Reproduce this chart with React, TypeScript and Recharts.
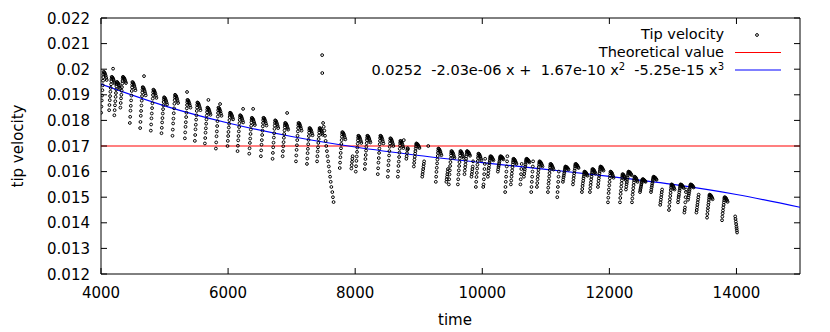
import { ComposedChart, XAxis, YAxis, Scatter, Line, ReferenceArea } from "recharts";

const xTicks = [4000, 6000, 8000, 10000, 12000, 14000];
const yTicks = [0.012, 0.013, 0.014, 0.015, 0.016, 0.017, 0.018, 0.019, 0.02, 0.021, 0.022];

// [time, tip velocity], one line per streak
const tipSamples: [number, number][] = [
  [4002,0.0183],[4007,0.01854],[4012,0.01878],[4017,0.01897],[4022,0.01918],[4027,0.01937],[4032,0.01955],[4036,0.01969],[4039,0.0198],[4042,0.0199],[4050,0.01988],[4058,0.01985],[4066,0.0198],[4074,0.01974],[4082,0.01966],[4090,0.01958],[4190,0.02002],
  [4128,0.0184],[4133,0.0186],[4138,0.01879],[4143,0.01895],[4148,0.01912],[4153,0.01927],[4158,0.01941],[4162,0.01953],[4165,0.01962],[4168,0.0197],[4176,0.01969],[4184,0.01966],[4192,0.01962],[4200,0.01957],[4208,0.0195],[4216,0.01944],
  [4210,0.0182],[4215,0.0184],[4220,0.01859],[4225,0.01875],[4230,0.01892],[4235,0.01907],[4240,0.01921],[4244,0.01933],[4247,0.01942],[4250,0.0195],[4258,0.01949],[4266,0.01946],[4274,0.01942],[4282,0.01937],[4290,0.0193],[4298,0.01924],
  [4305,0.0185],[4310,0.01868],[4315,0.01886],[4320,0.019],[4325,0.01916],[4330,0.0193],[4335,0.01944],[4339,0.01954],[4342,0.01963],[4345,0.0197],[4353,0.01969],[4361,0.01966],[4369,0.01963],[4377,0.01958],[4385,0.01952],[4393,0.01946],
  [4454,0.0179],[4459,0.01814],[4464,0.01838],[4469,0.01857],[4474,0.01878],[4479,0.01897],[4484,0.01915],[4488,0.01929],[4491,0.0194],[4494,0.0195],[4502,0.01948],[4510,0.01945],[4518,0.0194],[4526,0.01934],[4534,0.01926],[4542,0.01918],
  [4616,0.0177],[4621,0.01794],[4626,0.01818],[4631,0.01837],[4636,0.01858],[4641,0.01877],[4646,0.01895],[4650,0.01909],[4653,0.0192],[4656,0.0193],[4664,0.01928],[4672,0.01925],[4680,0.0192],[4688,0.01914],[4696,0.01906],[4704,0.01898],[4677,0.01973],
  [4784,0.0176],[4789,0.01784],[4794,0.01808],[4799,0.01827],[4804,0.01848],[4809,0.01867],[4814,0.01885],[4818,0.01899],[4821,0.0191],[4824,0.0192],[4832,0.01918],[4840,0.01915],[4848,0.0191],[4856,0.01904],[4864,0.01896],[4872,0.01888],
  [4952,0.0175],[4957,0.01771],[4962,0.01792],[4967,0.01809],[4972,0.01827],[4977,0.01844],[4982,0.01859],[4986,0.01872],[4989,0.01882],[4992,0.0189],[5000,0.01889],[5008,0.01886],[5016,0.01882],[5024,0.01876],[5032,0.01869],[5040,0.01862],
  [5125,0.0174],[5130,0.01764],[5135,0.01788],[5140,0.01807],[5145,0.01828],[5150,0.01847],[5155,0.01865],[5159,0.01879],[5162,0.0189],[5165,0.019],[5173,0.01898],[5181,0.01895],[5189,0.0189],[5197,0.01884],[5205,0.01876],[5213,0.01868],
  [5320,0.0173],[5325,0.01753],[5330,0.01775],[5335,0.01793],[5340,0.01813],[5345,0.0183],[5350,0.01847],[5354,0.0186],[5357,0.01871],[5360,0.0188],[5368,0.01879],[5376,0.01876],[5384,0.01871],[5392,0.01865],[5400,0.01858],[5408,0.0185],[5354,0.01911],
  [5477,0.0172],[5482,0.01743],[5487,0.01765],[5492,0.01783],[5497,0.01803],[5502,0.0182],[5507,0.01837],[5511,0.0185],[5514,0.01861],[5517,0.0187],[5525,0.01869],[5533,0.01866],[5541,0.01861],[5549,0.01855],[5557,0.01848],[5565,0.0184],
  [5635,0.0171],[5640,0.01731],[5645,0.01752],[5650,0.01769],[5655,0.01787],[5660,0.01804],[5665,0.01819],[5669,0.01832],[5672,0.01842],[5675,0.0185],[5683,0.01849],[5691,0.01846],[5699,0.01842],[5707,0.01836],[5715,0.01829],[5723,0.01822],[5690,0.0188],
  [5808,0.0169],[5813,0.01714],[5818,0.01738],[5823,0.01757],[5828,0.01778],[5833,0.01797],[5838,0.01815],[5842,0.01829],[5845,0.0184],[5848,0.0185],[5856,0.01848],[5864,0.01845],[5872,0.0184],[5880,0.01834],[5888,0.01826],[5896,0.01818],[5874,0.01864],
  [5991,0.017],[5996,0.0172],[6001,0.01739],[6006,0.01755],[6011,0.01772],[6016,0.01787],[6021,0.01801],[6025,0.01813],[6028,0.01822],[6031,0.0183],[6039,0.01829],[6047,0.01826],[6055,0.01822],[6063,0.01817],[6071,0.0181],[6079,0.01804],
  [6149,0.0168],[6154,0.01701],[6159,0.01722],[6164,0.01739],[6169,0.01757],[6174,0.01774],[6179,0.01789],[6183,0.01802],[6186,0.01812],[6189,0.0182],[6197,0.01819],[6205,0.01816],[6213,0.01812],[6221,0.01806],[6229,0.01799],[6237,0.01792],[6236,0.01845],
  [6333,0.0167],[6338,0.01691],[6343,0.01712],[6348,0.01729],[6353,0.01747],[6358,0.01764],[6363,0.01779],[6367,0.01792],[6370,0.01802],[6373,0.0181],[6381,0.01809],[6389,0.01806],[6397,0.01802],[6405,0.01796],[6413,0.01789],[6421,0.01782],[6394,0.01845],
  [6516,0.0166],[6521,0.01683],[6526,0.01705],[6531,0.01723],[6536,0.01743],[6541,0.0176],[6546,0.01777],[6550,0.0179],[6553,0.01801],[6556,0.0181],[6564,0.01809],[6572,0.01806],[6580,0.01801],[6588,0.01795],[6596,0.01788],[6604,0.0178],
  [6700,0.0165],[6705,0.01673],[6710,0.01695],[6715,0.01713],[6720,0.01733],[6725,0.0175],[6730,0.01767],[6734,0.0178],[6737,0.01791],[6740,0.018],[6748,0.01799],[6756,0.01796],[6764,0.01791],[6772,0.01785],[6780,0.01778],[6788,0.0177],
  [6858,0.0166],[6863,0.0168],[6868,0.01699],[6873,0.01715],[6878,0.01732],[6883,0.01747],[6888,0.01761],[6892,0.01773],[6895,0.01782],[6898,0.0179],[6906,0.01789],[6914,0.01786],[6922,0.01782],[6930,0.01777],[6938,0.0177],[6946,0.01764],[6929,0.01829],
  [7068,0.0164],[7073,0.01663],[7078,0.01685],[7083,0.01703],[7088,0.01723],[7093,0.0174],[7098,0.01757],[7102,0.0177],[7105,0.01781],[7108,0.0179],[7116,0.01789],[7124,0.01786],[7132,0.01781],[7140,0.01775],[7148,0.01768],[7156,0.0176],
  [7241,0.0163],[7246,0.01651],[7251,0.01672],[7256,0.01689],[7261,0.01707],[7266,0.01724],[7271,0.01739],[7275,0.01752],[7278,0.01762],[7281,0.0177],[7289,0.01769],[7297,0.01766],[7305,0.01762],[7313,0.01756],[7321,0.01749],[7329,0.01742],
  [7400,0.0164],[7405,0.0166],[7410,0.01679],[7415,0.01695],[7420,0.01712],[7425,0.01727],[7430,0.01741],[7434,0.01753],[7437,0.01762],[7440,0.0177],[7448,0.01769],[7456,0.01766],[7464,0.01762],[7472,0.01757],[7480,0.0175],[7488,0.01744],
  [7480,0.02055],[7482,0.01985],
  [7495,0.0179],[7505,0.01775],[7515,0.0176],[7525,0.0174],[7535,0.0172],[7545,0.017],[7555,0.0168],[7565,0.0166],[7575,0.0164],[7585,0.0162],[7595,0.016],[7605,0.0158],[7615,0.0156],[7625,0.0154],[7640,0.0152],[7650,0.015],[7660,0.01481],
  [7757,0.01614],[7762,0.01635],[7767,0.01656],[7772,0.01673],[7777,0.01691],[7782,0.01708],[7787,0.01723],[7791,0.01736],[7794,0.01746],[7797,0.01754],[7805,0.01753],[7813,0.0175],[7821,0.01746],[7829,0.0174],[7837,0.01733],[7845,0.01726],
  [7940,0.01612],[7945,0.01625],[7950,0.01638],[7955,0.0165],[7960,0.0166],
  [8009,0.016],[8014,0.01621],[8019,0.01642],[8024,0.01659],[8029,0.01677],[8034,0.01694],[8039,0.01709],[8043,0.01722],[8046,0.01732],[8049,0.0174],[8057,0.01739],[8065,0.01736],[8073,0.01732],[8081,0.01726],[8089,0.01719],[8097,0.01712],
  [8151,0.0161],[8156,0.0163],[8161,0.01649],[8166,0.01665],[8171,0.01682],[8176,0.01697],[8181,0.01711],[8185,0.01723],[8188,0.01732],[8191,0.0174],[8199,0.01739],[8207,0.01736],[8215,0.01732],[8223,0.01727],[8231,0.0172],[8239,0.01714],
  [8356,0.0159],[8361,0.01613],[8366,0.01635],[8371,0.01653],[8376,0.01673],[8381,0.0169],[8386,0.01707],[8390,0.0172],[8393,0.01731],[8396,0.0174],[8404,0.01739],[8412,0.01736],[8420,0.01731],[8428,0.01725],[8436,0.01718],[8444,0.0171],
  [8513,0.0158],[8518,0.01603],[8523,0.01625],[8528,0.01643],[8533,0.01663],[8538,0.0168],[8543,0.01697],[8547,0.0171],[8550,0.01721],[8553,0.0173],[8561,0.01729],[8569,0.01726],[8577,0.01721],[8585,0.01715],[8593,0.01708],[8601,0.017],
  [8671,0.0158],[8676,0.01601],[8681,0.01622],[8686,0.01639],[8691,0.01657],[8696,0.01674],[8701,0.01689],[8705,0.01702],[8708,0.01712],[8711,0.0172],[8719,0.01719],[8727,0.01716],[8735,0.01712],[8743,0.01706],[8751,0.01699],[8759,0.01692],[8765,0.01723],
  [8805,0.0165],[8810,0.0166],[8815,0.01672],[8820,0.01684],[8825,0.01692],[8830,0.01688],
  [8923,0.0162],[8928,0.01634],[8933,0.01647],[8938,0.01658],[8943,0.0167],[8948,0.0168],[8953,0.0169],[8957,0.01698],[8960,0.01705],[8963,0.0171],[8971,0.01709],[8979,0.01707],[8987,0.01705],[8995,0.01701],[9003,0.01697],[9011,0.01692],
  [9055,0.0158],[9060,0.0159],[9065,0.016],[9070,0.0161],[9075,0.0162],[9080,0.0163],[9085,0.0164],[9150,0.017],
  [9269,0.0156],[9274,0.0158],[9279,0.01599],[9284,0.01615],[9289,0.01632],[9294,0.01647],[9299,0.01661],[9303,0.01673],[9306,0.01682],[9309,0.0169],[9317,0.01689],[9325,0.01686],[9333,0.01682],[9341,0.01677],[9349,0.0167],[9357,0.01664],
  [9435,0.0156],[9440,0.0157],[9445,0.0158],[9450,0.0159],[9455,0.016],[9460,0.0161],
  [9474,0.0155],[9479,0.0157],[9484,0.01589],[9489,0.01605],[9494,0.01622],[9499,0.01637],[9504,0.01651],[9508,0.01663],[9511,0.01672],[9514,0.0168],[9522,0.01679],[9530,0.01676],[9538,0.01672],[9546,0.01667],[9554,0.0166],[9562,0.01654],
  [9616,0.0155],[9621,0.0157],[9626,0.01589],[9631,0.01605],[9636,0.01622],[9641,0.01637],[9646,0.01651],[9650,0.01663],[9653,0.01672],[9656,0.0168],[9664,0.01679],[9672,0.01676],[9680,0.01672],[9688,0.01667],[9696,0.0166],[9704,0.01654],
  [9720,0.0159],[9725,0.01604],[9730,0.01617],[9735,0.01628],[9740,0.0164],[9745,0.0165],[9750,0.0166],[9754,0.01668],[9757,0.01675],[9760,0.0168],[9768,0.01679],[9776,0.01677],[9784,0.01675],[9792,0.01671],[9800,0.01667],[9808,0.01662],
  [9830,0.0158],[9835,0.0159],[9840,0.016],[9845,0.0161],[9850,0.0162],[9855,0.0164],
  [9899,0.0154],[9904,0.0156],[9909,0.01579],[9914,0.01595],[9919,0.01612],[9924,0.01627],[9929,0.01641],[9933,0.01653],[9936,0.01662],[9939,0.0167],[9947,0.01669],[9955,0.01666],[9963,0.01662],[9971,0.01657],[9979,0.0165],[9987,0.01644],
  [10015,0.0154],[10020,0.0155],[10025,0.0157],[10030,0.0159],[10035,0.0161],[10040,0.0163],[10045,0.0165],
  [10088,0.0158],[10093,0.01592],[10098,0.01604],[10103,0.01614],[10108,0.01624],[10113,0.01634],[10118,0.01642],[10122,0.0165],[10125,0.01655],[10128,0.0166],[10136,0.01659],[10144,0.01658],[10152,0.01655],[10160,0.01652],[10168,0.01648],[10176,0.01644],
  [10245,0.016],[10250,0.01609],[10255,0.01618],[10260,0.01625],[10265,0.01633],[10270,0.0164],[10275,0.01647],[10279,0.01652],[10282,0.01656],[10285,0.0166],[10293,0.01659],[10301,0.01658],[10309,0.01656],[10317,0.01654],[10325,0.01651],[10333,0.01648],
  [10360,0.0152],[10365,0.0154],[10370,0.0156],[10375,0.0158],[10380,0.016],[10385,0.0162],[10390,0.0164],[10395,0.0166],
  [10450,0.0155],[10455,0.01565],[10460,0.0158],[10465,0.01592],[10470,0.01605],[10475,0.01617],[10480,0.01628],[10484,0.01637],[10487,0.01644],[10490,0.0165],[10498,0.01649],[10506,0.01647],[10514,0.01644],[10522,0.0164],[10530,0.01635],[10538,0.0163],
  [10600,0.0155],[10605,0.0157],[10610,0.0159],[10615,0.0161],[10620,0.0163],
  [10655,0.0158],[10660,0.01591],[10665,0.01601],[10670,0.01609],[10675,0.01619],[10680,0.01627],[10685,0.01635],[10689,0.01641],[10692,0.01646],[10695,0.0165],[10703,0.01649],[10711,0.01648],[10719,0.01646],[10727,0.01643],[10735,0.0164],[10743,0.01636],
  [10770,0.0152],[10775,0.0154],[10780,0.0156],[10785,0.0158],[10790,0.016],[10795,0.0162],[10800,0.0164],
  [10860,0.0154],[10865,0.01555],[10870,0.0157],[10875,0.01582],[10880,0.01595],[10885,0.01607],[10890,0.01618],[10894,0.01627],[10897,0.01634],[10900,0.0164],[10908,0.01639],[10916,0.01637],[10924,0.01634],[10932,0.0163],[10940,0.01625],[10948,0.0162],
  [11033,0.0152],[11038,0.01537],[11043,0.01553],[11048,0.01566],[11053,0.01581],[11058,0.01594],[11063,0.01606],[11067,0.01616],[11070,0.01623],[11073,0.0163],[11081,0.01629],[11089,0.01627],[11097,0.01623],[11105,0.01619],[11113,0.01614],[11121,0.01608],
  [11180,0.015],[11185,0.0152],[11190,0.0154],[11195,0.0156],[11200,0.0158],[11205,0.016],
  [11269,0.0156],[11274,0.01569],[11279,0.01578],[11284,0.01585],[11289,0.01593],[11294,0.016],[11299,0.01607],[11303,0.01612],[11306,0.01616],[11309,0.0162],[11317,0.01619],[11325,0.01618],[11333,0.01616],[11341,0.01614],[11349,0.01611],[11357,0.01608],
  [11427,0.0155],[11432,0.01562],[11437,0.01574],[11442,0.01584],[11447,0.01594],[11452,0.01604],[11457,0.01612],[11461,0.0162],[11464,0.01625],[11467,0.0163],[11475,0.01629],[11483,0.01628],[11491,0.01625],[11499,0.01622],[11507,0.01618],[11515,0.01614],
  [11568,0.0152],[11573,0.01532],[11578,0.01544],[11583,0.01554],[11588,0.01564],[11593,0.01574],[11598,0.01582],[11602,0.0159],[11605,0.01595],[11608,0.016],[11616,0.01599],[11624,0.01598],[11632,0.01595],[11640,0.01592],[11648,0.01588],[11656,0.01584],
  [11694,0.0152],[11699,0.01534],[11704,0.01547],[11709,0.01558],[11714,0.0157],[11719,0.0158],[11724,0.0159],[11728,0.01598],[11731,0.01605],[11734,0.0161],[11742,0.01609],[11750,0.01607],[11758,0.01605],[11766,0.01601],[11774,0.01597],[11782,0.01592],
  [11820,0.0154],[11825,0.01552],[11830,0.01564],[11835,0.01574],[11840,0.01584],[11845,0.01594],[11850,0.01602],[11854,0.0161],[11857,0.01615],[11860,0.0162],[11868,0.01619],[11876,0.01618],[11884,0.01615],[11892,0.01612],[11900,0.01608],[11908,0.01604],
  [11978,0.0148],[11983,0.01498],[11988,0.01516],[11993,0.0153],[11998,0.01546],[12003,0.0156],[12008,0.01574],[12012,0.01584],[12015,0.01593],[12018,0.016],[12026,0.01599],[12034,0.01596],[12042,0.01593],[12050,0.01588],[12058,0.01582],[12066,0.01576],
  [12167,0.0148],[12172,0.01497],[12177,0.01513],[12182,0.01526],[12187,0.01541],[12192,0.01554],[12197,0.01566],[12201,0.01576],[12204,0.01583],[12207,0.0159],[12215,0.01589],[12223,0.01587],[12231,0.01583],[12239,0.01579],[12247,0.01574],[12255,0.01568],
  [12261,0.0153],[12266,0.01541],[12271,0.01551],[12276,0.01559],[12281,0.01569],[12286,0.01577],[12291,0.01585],[12295,0.01591],[12298,0.01596],[12301,0.016],[12309,0.01599],[12317,0.01598],[12325,0.01596],[12333,0.01593],[12341,0.0159],[12349,0.01586],
  [12356,0.0148],[12361,0.01495],[12366,0.0151],[12371,0.01522],[12376,0.01535],[12381,0.01547],[12386,0.01558],[12390,0.01567],[12393,0.01574],[12396,0.0158],[12404,0.01579],[12412,0.01577],[12420,0.01574],[12428,0.0157],[12436,0.01565],[12444,0.0156],
  [12482,0.0152],[12487,0.01528],[12492,0.01535],[12497,0.01541],[12502,0.01548],[12507,0.01554],[12512,0.01559],[12516,0.01564],[12519,0.01567],[12522,0.0157],[12530,0.0157],[12538,0.01569],[12546,0.01567],[12554,0.01565],[12562,0.01563],[12570,0.0156],
  [12655,0.0152],[12660,0.01529],[12665,0.01538],[12670,0.01545],[12675,0.01553],[12680,0.0156],[12685,0.01567],[12689,0.01572],[12692,0.01576],[12695,0.0158],[12703,0.01579],[12711,0.01578],[12719,0.01576],[12727,0.01574],[12735,0.01571],[12743,0.01568],
  [12800,0.0147],[12805,0.0148],[12810,0.0149],[12815,0.015],[12820,0.0151],[12825,0.0152],[12830,0.0153],
  [12938,0.0145],[12943,0.01465],[12948,0.0148],[12953,0.01492],[12958,0.01505],[12963,0.01517],[12968,0.01528],[12972,0.01537],[12975,0.01544],[12978,0.0155],[12986,0.01549],[12994,0.01547],[13002,0.01544],[13010,0.0154],[13018,0.01535],[13026,0.0153],
  [13080,0.0148],[13085,0.01491],[13090,0.01501],[13095,0.01509],[13100,0.01519],[13105,0.01527],[13110,0.01535],[13114,0.01541],[13117,0.01546],[13120,0.0155],[13128,0.01549],[13136,0.01548],[13144,0.01546],[13152,0.01543],[13160,0.0154],[13168,0.01536],
  [13180,0.0144],[13185,0.0145],[13190,0.0146],[13195,0.0148],[13200,0.015],[13205,0.0152],[13210,0.0153],
  [13238,0.0149],[13243,0.01499],[13248,0.01508],[13253,0.01515],[13258,0.01523],[13263,0.0153],[13268,0.01537],[13272,0.01542],[13275,0.01546],[13278,0.0155],[13286,0.01549],[13294,0.01548],[13302,0.01546],[13310,0.01544],[13318,0.01541],[13326,0.01538],
  [13370,0.0144],[13375,0.0145],[13380,0.0146],[13385,0.0147],[13390,0.0148],[13395,0.0149],[13400,0.015],[13405,0.0151],
  [13537,0.0142],[13542,0.01434],[13547,0.01447],[13552,0.01458],[13557,0.0147],[13562,0.0148],[13567,0.0149],[13571,0.01498],[13574,0.01505],[13577,0.0151],[13585,0.01509],[13593,0.01507],[13601,0.01505],[13609,0.01501],[13617,0.01497],[13625,0.01492],
  [13773,0.0141],[13778,0.01424],[13783,0.01437],[13788,0.01448],[13793,0.0146],[13798,0.0147],[13803,0.0148],[13807,0.01488],[13810,0.01495],[13813,0.015],[13821,0.01499],[13829,0.01497],[13837,0.01495],[13845,0.01491],[13853,0.01487],[13861,0.01482],
  [13980,0.01425],[13985,0.01415],[13990,0.01405],[13995,0.01395],[14000,0.01385],[14003,0.01378],[14006,0.0137],[14010,0.01362],
];

const fitTime = [4000, 5000, 6000, 7000, 8000, 9000, 10000, 11000, 12000, 13000, 14000, 15000];
const fitVelocity = [0.019416, 0.018569, 0.017898, 0.017372, 0.01696, 0.01663, 0.01635, 0.016089, 0.015816, 0.015499, 0.015106, 0.014606];

const theoryTime = [4000, 15000];
const theoryVelocity = [0.017, 0.017];

const tipData = tipSamples.map(([time, velocity]) => ({ time, velocity }));
const fitData = fitTime.map((time, i) => ({ time, fit: fitVelocity[i] }));
const theoryData = theoryTime.map((time, i) => ({ time, theory: theoryVelocity[i] }));

const FONT = "'DejaVu Sans', sans-serif";
const PLOT_TOP = 18;
const PLOT_BOTTOM = 274;
const PLOT_LEFT = 101;
const PLOT_RIGHT = 800;

function XTick(props: any) {
  const { x, payload } = props;
  return (
    <g>
      <line x1={x} y1={PLOT_BOTTOM} x2={x} y2={PLOT_BOTTOM - 6} stroke="#000" />
      <line x1={x} y1={PLOT_TOP} x2={x} y2={PLOT_TOP + 6} stroke="#000" />
      <text x={x} y={PLOT_BOTTOM + 24} textAnchor="middle" fontFamily={FONT} fontSize={15} fill="#000">
        {payload.value}
      </text>
    </g>
  );
}

function YTick(props: any) {
  const { y, payload } = props;
  return (
    <g>
      <line x1={PLOT_LEFT} y1={y} x2={PLOT_LEFT + 6} y2={y} stroke="#000" />
      <line x1={PLOT_RIGHT - 6} y1={y} x2={PLOT_RIGHT} y2={y} stroke="#000" />
      <text x={PLOT_LEFT - 11} y={y + 5.5} textAnchor="end" fontFamily={FONT} fontSize={15} fill="#000">
        {String(Number(Number(payload.value).toFixed(3)))}
      </text>
    </g>
  );
}

const dot = (p: any) => <circle cx={p.cx} cy={p.cy} r={1.4} fill="none" stroke="#000" strokeWidth={1} />;

const legendRow = (top: number): React.CSSProperties => ({
  position: "absolute", right: 106, top, whiteSpace: "pre", fontSize: 14.5, lineHeight: "16px", height: 16,
});
const sup: React.CSSProperties = { fontSize: 10, position: "relative", top: -4.5, lineHeight: "10px" };

export default function App() {
  return (
    <div style={{ position: "absolute", left: 0, top: 0, width: 830, height: 332, background: "#fff", fontFamily: FONT, fontSize: 15, color: "#000" }}>
      <ComposedChart width={830} height={332} margin={{ top: 18, right: 30, bottom: 57, left: 100 }}>
        <XAxis type="number" dataKey="time" domain={[4000, 15000]} ticks={xTicks} tickSize={0} tickMargin={0}
          tick={(p: any) => <XTick {...p} />} axisLine={false} tickLine={false} height={1} allowDataOverflow />
        <YAxis type="number" domain={[0.012, 0.022]} ticks={yTicks} tickSize={0} tickMargin={0}
          tick={(p: any) => <YTick {...p} />} axisLine={false} tickLine={false} width={1} allowDataOverflow />
        <Line data={theoryData} dataKey="theory" stroke="#ff0000" strokeWidth={1.2} dot={false} isAnimationActive={false} />
        <Scatter data={tipData} dataKey="velocity" shape={dot} isAnimationActive={false} />
        <Line data={fitData} dataKey="fit" type="monotone" stroke="#0000ff" strokeWidth={1.2} dot={false} isAnimationActive={false} />
        <ReferenceArea x1={4000} x2={15000} y1={0.012} y2={0.022} fill="none" stroke="#000" strokeWidth={1} fillOpacity={0} />
      </ComposedChart>

      <div style={legendRow(26)}>Tip velocity</div>
      <div style={legendRow(43.5)}>Theoretical value</div>
      <div style={legendRow(61.5)}>
        0.0252  -2.03e-06 x +  1.67e-10 x<span style={sup}>2</span>  -5.25e-15 x<span style={sup}>3</span>
      </div>
      <svg style={{ position: "absolute", left: 0, top: 0 }} width={830} height={332} pointerEvents="none">
        <circle cx={757} cy={35} r={1.4} fill="none" stroke="#000" strokeWidth={1} />
        <line x1={735} y1={52.5} x2={781} y2={52.5} stroke="#ff0000" strokeWidth={1.2} />
        <line x1={735} y1={70} x2={781} y2={70} stroke="#0000ff" strokeWidth={1.2} />
      </svg>

      <div style={{ position: "absolute", left: 18, top: 146, transform: "translate(-50%, -50%) rotate(-90deg)", whiteSpace: "nowrap" }}>
        tip velocity
      </div>
      <div style={{ position: "absolute", left: 455, top: 320, transform: "translate(-50%, -50%)" }}>time</div>
    </div>
  );
}
